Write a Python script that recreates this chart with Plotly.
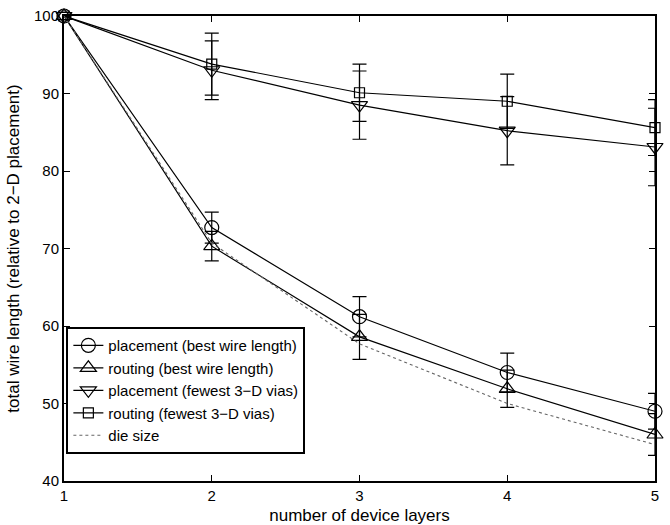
import plotly.graph_objects as go

layers = [1, 2, 3, 4, 5]

place_best = [100, 72.7, 61.2, 54.0, 49.0]
place_best_err = [0, 2.0, 2.6, 2.5, 2.3]

route_best = [100, 70.3, 58.6, 51.9, 46.0]
route_best_err = [0, 1.9, 2.9, 2.4, 2.7]

place_vias = [100, 93.0, 88.5, 85.2, 83.1]
place_vias_err = [0, 3.8, 4.4, 4.4, 5.0]

route_vias = [100, 93.8, 90.1, 89.0, 85.6]
route_vias_err = [0, 4.0, 3.7, 3.5, 3.6]

die_size = [100, 70.7, 57.7, 50.0, 44.7]

names = [
    "placement (best wire length)",
    "routing (best wire length)",
    "placement (fewest 3\u2212D vias)",
    "routing (fewest 3\u2212D vias)",
    "die size",
]

FONT = "Liberation Sans, Arial, Helvetica, sans-serif"

fig = go.Figure()

series = [
    (place_best, place_best_err, "circle-open", 14),
    (route_best, route_best_err, "triangle-up-open", 14),
    (place_vias, place_vias_err, "triangle-down-open", 14),
    (route_vias, route_vias_err, "square-open", 10),
]

for (vals, errs, sym, size), name in zip(series, names[:4]):
    fig.add_trace(go.Scatter(
        x=layers, y=vals, name=name, mode="lines+markers", cliponaxis=False,
        line=dict(color="black", width=1.2),
        marker=dict(symbol=sym, size=size, color="black", line=dict(color="black", width=1.2)),
        error_y=dict(type="data", array=errs, visible=True, color="black", thickness=1.2, width=7),
    ))

fig.add_trace(go.Scatter(
    x=layers, y=die_size, name=names[4], mode="lines", cliponaxis=False,
    line=dict(color="#666666", width=1.1, dash="dot"),
))

axis_common = dict(
    showline=True, linecolor="black", linewidth=2, mirror="allticks",
    ticks="inside", ticklen=6, tickwidth=1, tickcolor="black",
    showgrid=False, zeroline=False, automargin=False,
    tickfont=dict(family=FONT, size=15, color="black"),
)

fig.update_layout(
    template="none",
    width=670, height=525,
    margin=dict(l=64, r=15, t=16, b=44, autoexpand=False),
    paper_bgcolor="white", plot_bgcolor="white",
    font=dict(family=FONT, color="black"),
    xaxis=dict(
        range=[1, 5], tickvals=[1, 2, 3, 4, 5],
        title=dict(text="number of device layers", font=dict(family=FONT, size=17)),
        **axis_common,
    ),
    yaxis=dict(
        range=[40, 100], tickvals=[40, 50, 60, 70, 80, 90, 100],
        title=dict(text="total wire length (relative to 2\u2212D placement)", font=dict(family=FONT, size=17)),
        **axis_common,
    ),
    legend=dict(
        x=0.004, y=0.058, xanchor="left", yanchor="bottom",
        bgcolor="white", bordercolor="black", borderwidth=2,
        font=dict(family=FONT, size=15, color="black"),
        tracegroupgap=0,
    ),
    showlegend=True,
)

fig.write_html("out.html", config={"displayModeBar": False},
               post_script="document.body.style.margin='0';")
